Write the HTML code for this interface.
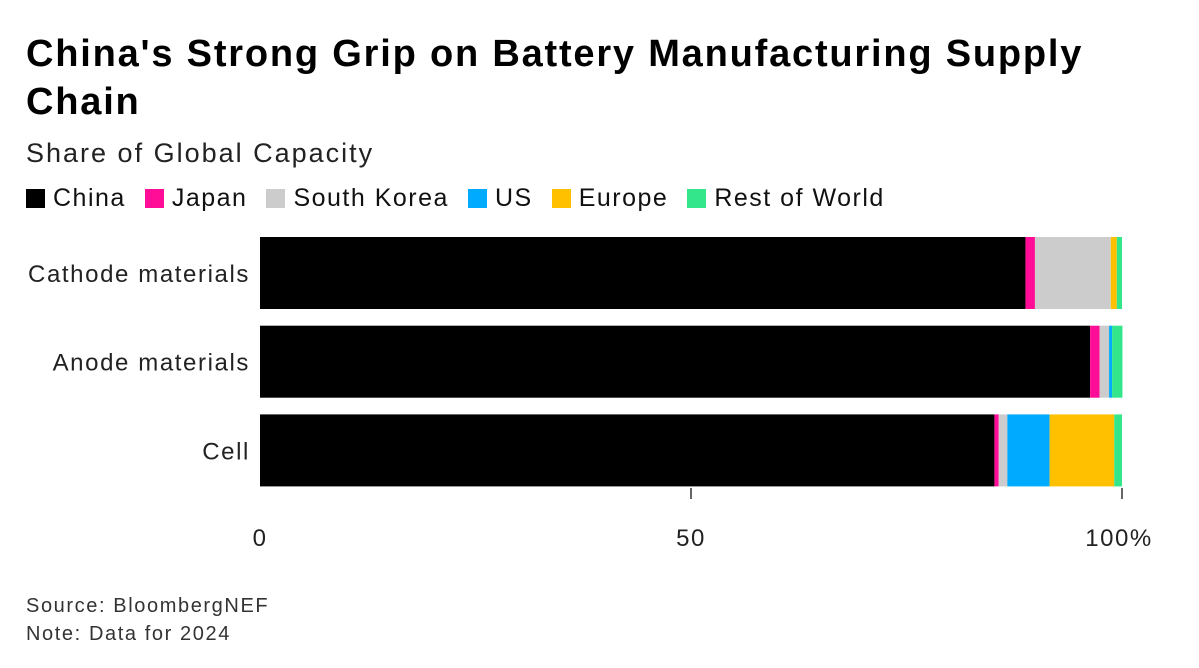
<!DOCTYPE html>
<html><head><meta charset="utf-8"><style>
body{margin:0;width:1199px;height:668px;background:#fff;font-family:"Liberation Sans",sans-serif;overflow:hidden;position:relative}
.t{position:absolute;left:26px;top:30px;font-size:38px;font-weight:bold;line-height:48px;color:#000;letter-spacing:1.8px}
.s{position:absolute;left:26px;top:138px;font-size:27px;color:#222;letter-spacing:2px}
.lg{position:absolute;top:184px;left:26px;font-size:25px;color:#111;display:flex;letter-spacing:1.5px}
.lg span{display:inline-flex;align-items:center;margin-right:19px}
.lg i{display:inline-block;width:19px;height:19px;margin-right:8px}
.f{position:absolute;left:26px;font-size:20px;color:#333;letter-spacing:1.6px}
</style></head><body>
<div class="t">China's Strong Grip on Battery Manufacturing Supply<br>Chain</div>
<div class="s">Share of Global Capacity</div>
<div class="lg" id="lg"></div>
<svg id="c" width="1199" height="668" style="position:absolute;left:0;top:0"></svg>
<div class="f" style="top:595px">Source: BloombergNEF</div>
<div class="f" style="top:623px">Note: Data for 2024</div>
<script>
const categories=["Cathode materials","Anode materials","Cell"];
const seriesNames=["China","Japan","South Korea","US","Europe","Rest of World"];
const colors=["#000000","#ff0d96","#cccccc","#00aaff","#ffc000","#33e68c"];
const china=[88.8,96.3,85.2];
const japan=[1.1,1.1,0.5];
const southKorea=[8.8,1.1,1.0];
const us=[0,0.35,4.9];
const europe=[0.7,0,7.5];
const rest=[0.6,1.2,0.9];
const ticks=[0,50,100];
const tickLabels=["0","50","100%"];
const series=[china,japan,southKorea,us,europe,rest];
const NS="http://www.w3.org/2000/svg";
const svg=document.getElementById('c');
const x=v=>260+v*8.62;
const yTop=i=>237+i*88.7;
const bh=72;
const lg=document.getElementById('lg');
seriesNames.forEach((n,k)=>{
 const s=document.createElement('span');
 
 
 s.innerHTML='<i style="background:'+colors[k]+'"></i>'+n;
 lg.appendChild(s);
});
function el(t,a){const e=document.createElementNS(NS,t);for(const k in a)e.setAttribute(k,a[k]);svg.appendChild(e);return e;}
categories.forEach((c,i)=>{
 let acc=0;
 series.forEach((sv,k)=>{
  const v=sv[i];
  if(v>0){
   const r=el('rect',{x:x(acc),y:yTop(i),width:x(acc+v)-x(acc),height:bh,fill:colors[k]});
   
   
  }
  acc+=v;
 });
 const t=el('text',{x:250,y:yTop(i)+bh/2+9,'text-anchor':'end','font-size':24,'letter-spacing':1.6,fill:'#222','font-family':'Liberation Sans, sans-serif'});
 t.textContent=c;
 
 
});
ticks.forEach((tv,j)=>{
 if(tv>0){const l=el('line',{x1:x(tv),x2:x(tv),y1:488,y2:499,stroke:'#333','stroke-width':1.5});
 
 }
 const t=el('text',{x:x(tv)+(j==2?-3:0),y:546,'text-anchor':'middle','font-size':24,'letter-spacing':1.5,fill:'#222','font-family':'Liberation Sans, sans-serif'});
 t.textContent=tickLabels[j];
 
 
});
</script>
</body></html>
